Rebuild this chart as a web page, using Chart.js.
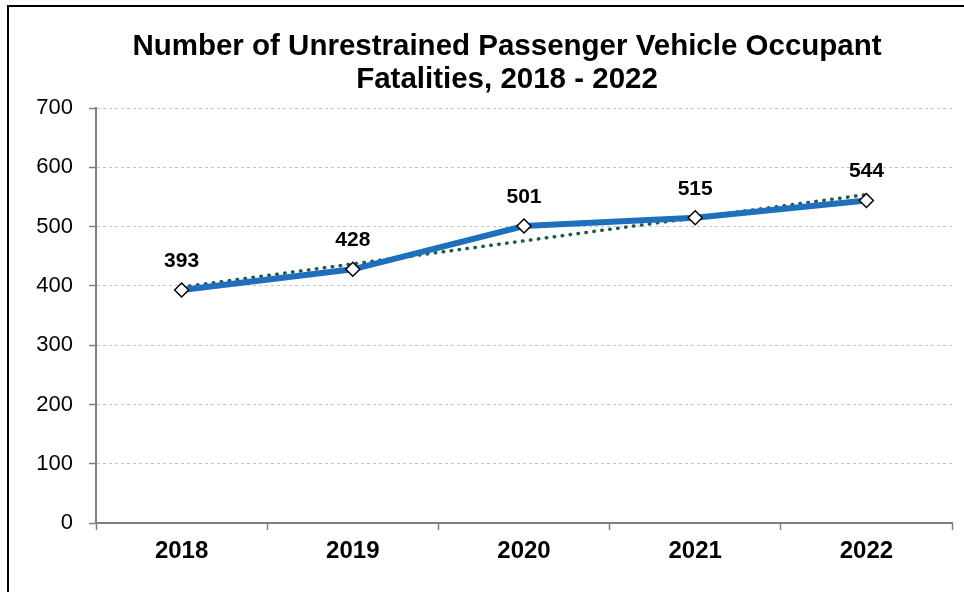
<!DOCTYPE html>
<html>
<head>
<meta charset="utf-8">
<script src="https://cdn.jsdelivr.net/npm/chart.js@4.4.1/dist/chart.umd.min.js"></script>
<style>
    html, body { margin: 0; padding: 0; background: #fff; overflow: hidden; }
    #wrap { position: relative; width: 964px; height: 592px; overflow: hidden; }
    #frame {
        position: absolute; left: 7px; top: 5px;
        width: 1200px; height: 800px;
        border: 2px solid #000; pointer-events: none;
    }
</style>
</head>
<body>
<div id="wrap">
    <!-- the chart runs a little past the right edge, the frame is cut off there -->
    <canvas id="fatalitiesChart" width="1014" height="592"></canvas>
    <div id="frame"></div>
</div>
<script>
const years = ['2018', '2019', '2020', '2021', '2022'];
const fatalities = [393, 428, 501, 515, 544];
const trendValues = [398, 437, 476, 515, 554]; // linear trend across the five years
const yMin = 0;
const yMax = 700;
const yStep = 100;

const FONT = "'Liberation Sans', Arial, Helvetica, sans-serif";

// Bold value labels above each point of the main series
const valueLabels = {
    id: 'valueLabels',
    afterDatasetsDraw(chart) {
        const meta = chart.getDatasetMeta(0);
        const ctx = chart.ctx;
        ctx.save();
        ctx.font = `bold 21px ${FONT}`;
        ctx.fillStyle = '#000';
        ctx.textAlign = 'center';
        ctx.textBaseline = 'middle';
        meta.data.forEach((pt, i) => {
            ctx.fillText(String(fatalities[i]), pt.x, pt.y - 29);
        });
        ctx.restore();
    }
};

// Centre the title over the plot plus axis labels instead of the whole canvas
const titleShift = {
    id: 'titleShift',
    beforeDraw(chart) {
        if (chart.titleBlock) {
            chart.titleBlock.left = 62;
        }
    }
};

const ctx = document.getElementById('fatalitiesChart').getContext('2d');

new Chart(ctx, {
    type: 'line',
    data: {
        labels: years,
        datasets: [
            {
                label: 'Fatalities',
                data: fatalities,
                borderColor: '#1E70BF',
                borderWidth: 6,
                tension: 0,
                pointStyle: 'rectRot',
                pointRadius: 7,
                pointBackgroundColor: '#fff',
                pointBorderColor: '#000',
                pointBorderWidth: 1.5,
                order: 1,
            },
            {
                label: 'Trend',
                data: trendValues,
                borderColor: '#1F5A4A',
                borderWidth: 3.5,
                borderDash: [0.5, 7.5],
                borderCapStyle: 'round',
                pointRadius: 0,
                tension: 0,
                order: 2,
            },
        ],
    },
    options: {
        responsive: false,
        animation: false,
        devicePixelRatio: 1,
        layout: { padding: { left: 0, right: 62, top: 0, bottom: 0 } },
        plugins: {
            legend: { display: false },
            tooltip: { enabled: false },
            title: {
                display: true,
                text: ['Number of Unrestrained Passenger Vehicle Occupant', 'Fatalities, 2018 - 2022'],
                color: '#000',
                font: { family: FONT, size: 29.5, weight: 'bold', lineHeight: 1.12 },
                padding: { top: 30, bottom: 12 },
            },
        },
        scales: {
            x: {
                offset: true,
                grid: {
                    display: true,
                    offset: true,
                    drawOnChartArea: false,
                    tickLength: 7,
                    tickColor: '#808080',
                    tickWidth: 1.5,
                },
                border: { color: '#808080', width: 2 },
                ticks: {
                    color: '#000',
                    padding: 7,
                    font: { family: FONT, size: 24, weight: 'bold' },
                },
                afterFit: (scale) => { scale.height = 69; },
            },
            y: {
                min: yMin,
                max: yMax,
                grid: {
                    color: '#c4c4c4',
                    lineWidth: 1,
                    tickLength: 7,
                    tickColor: '#808080',
                    tickWidth: 1.5,
                    tickBorderDash: [],
                },
                border: { color: '#808080', width: 2, dash: [3, 3] },
                ticks: {
                    stepSize: yStep,
                    color: '#000',
                    padding: 16,
                    font: { family: FONT, size: 22 },
                },
                afterFit: (scale) => { scale.width = 96; },
            },
        },
    },
    plugins: [valueLabels, titleShift],
});
</script>
</body>
</html>
